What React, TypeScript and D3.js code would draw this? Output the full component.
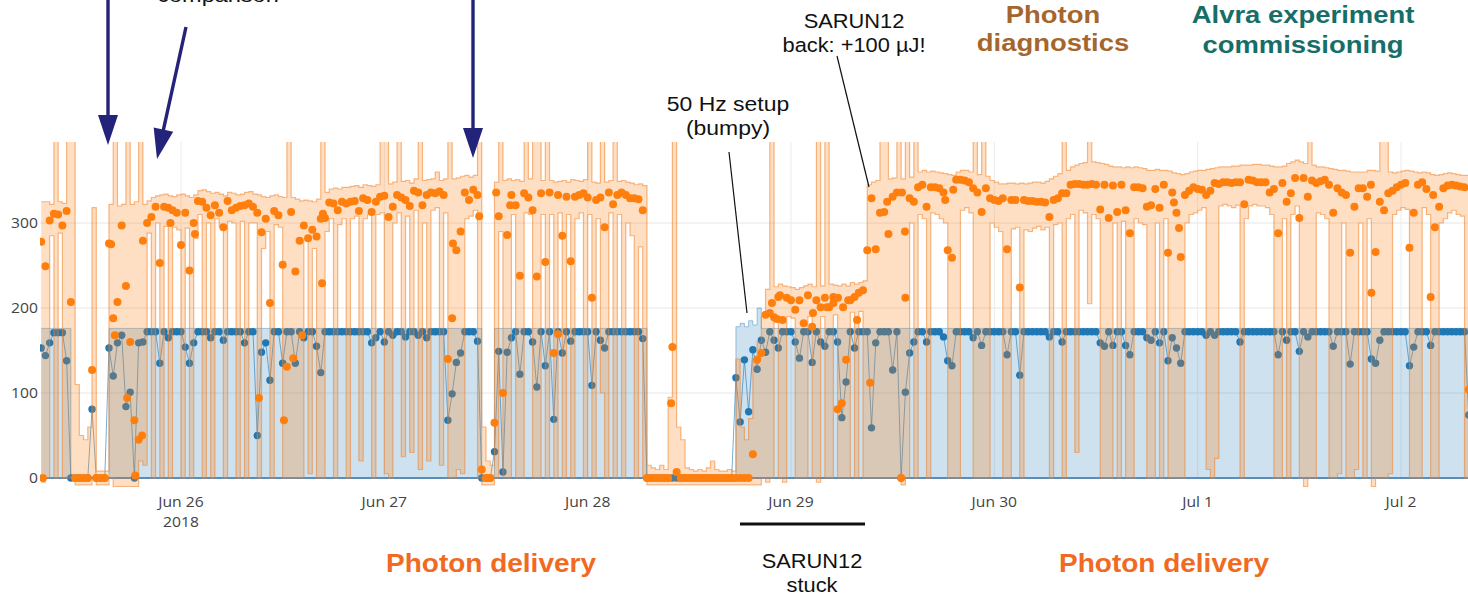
import React from "react";
import * as d3 from "d3";

// Half-hourly bins starting 2018-06-25 07:30 UTC
const START = Date.UTC(2018, 5, 25, 7, 30);
const STEP_MS = 30 * 60 * 1000;

// Photon pulse energy (µJ), bin average
const pulseAvg = [
  278, 249, 303, 311, 310, 297, 314, 207, 0, 0, 0, 0, 127, 0, 0, 0, 276, 188, 207, 297, 226, 160, 68, 45,
  279, 300, 307, 319, 253, 319, 318, 315, 312, 274, 312, 244, 300, 326, 325, 318, 309, 321, 312, 295, 326, 315, 318, 320,
  321, 323, 319, 312, 289, 305, 206, 314, 309, 251, 131, 313, 243, 279, 297, 282, 292, 284, 305, 306, 324, 323, 315, 325,
  323, 325, 326, 314, 329, 327, 313, 325, 331, 332, 307, 319, 333, 330, 327, 320, 338, 336, 321, 333, 336, 335, 337, 333,
  140, 188, 268, 290, 336, 327, 339, 333, 10, 0, 0, 65, 308, 100, 286, 333, 321, 238, 335, 330, 315, 237, 335, 254,
  336, 147, 333, 285, 331, 255, 331, 333, 335, 330, 212, 327, 330, 295, 336, 322, 333, 336, 333, 329, 329, 328, 315, 0,
  0, 0, 0, 0, 0, 154, 7, 0, 0, 0, 0, 0, 0, 0, 0, 0, 0, 0, 0, 0, 0, 0, 0, 0,
  28, 139, 147, 192, 194, 189, 213, 186, 212, 209, 198, 209, 182, 215, 178, 209, 201, 212, 201, 213, 81, 88, 139, 209,
  213, 218, 221, 268, 329, 269, 312, 313, 287, 331, 336, 0, 212, 329, 325, 342, 345, 319, 342, 342, 341, 336, 268, 259,
  351, 351, 350, 348, 341, 336, 313, 341, 329, 327, 326, 329, 269, 327, 327, 224, 327, 326, 326, 325, 325, 324, 307, 327,
  329, 335, 335, 345, 346, 346, 345, 345, 346, 345, 316, 345, 306, 344, 313, 345, 315, 288, 342, 342, 341, 319, 321, 340,
  318, 345, 265, 336, 312, 260, 333, 338, 342, 340, 339, 333, 338, 347, 346, 348, 348, 347, 348, 348, 322, 351, 350, 348,
  348, 348, 336, 340, 288, 347, 325, 335, 353, 306, 353, 331, 350, 347, 349, 351, 345, 312, 341, 336, 333, 265, 319, 341,
  341, 331, 218, 266, 325, 315, 335, 338, 342, 345, 347, 271, 312, 345, 348, 340, 213, 295, 319, 341, 344, 345, 344, 343,
  342, 104,
];

// Photon pulse energy (µJ), bin maximum
const pulseMax = [
  325, 325, 322, 420, 325, 323, 420, 420, 110, 50, 45, 60, 318, 8, 8, 8, 322, 420, 320, 322, 420, 322, 325, 420,
  322, 326, 330, 332, 333, 334, 332, 331, 333, 334, 332, 330, 333, 338, 339, 337, 335, 336, 334, 332, 336, 335, 333, 334,
  336, 337, 334, 333, 331, 330, 332, 333, 331, 330, 420, 330, 328, 326, 327, 326, 325, 328, 420, 336, 340, 341, 340, 342,
  342, 343, 344, 342, 345, 344, 343, 345, 420, 420, 346, 348, 420, 349, 350, 347, 352, 420, 350, 351, 352, 360, 350, 352,
  420, 352, 353, 355, 356, 354, 356, 420, 60, 20, 15, 348, 420, 350, 352, 350, 351, 349, 420, 352, 420, 420, 350, 420,
  350, 348, 349, 350, 348, 351, 350, 349, 351, 420, 348, 347, 420, 348, 350, 420, 349, 350, 348, 347, 345, 346, 344, 15,
  12, 10, 15, 10, 95, 420, 60, 45, 12, 10, 8, 10, 8, 12, 20, 10, 8, 8, 10, 8, 140, 60, 45, 70,
  140, 160, 190, 222, 420, 225, 228, 226, 225, 224, 222, 224, 226, 228, 225, 420, 226, 420, 228, 227, 226, 228, 226, 230,
  228, 230, 232, 345, 348, 350, 420, 420, 352, 353, 420, 352, 420, 354, 420, 360, 362, 360, 361, 360, 359, 358, 357, 356,
  360, 362, 362, 360, 420, 357, 420, 355, 350, 348, 346, 346, 347, 347, 346, 347, 346, 347, 348, 348, 347, 349, 352, 355,
  358, 420, 362, 366, 368, 370, 371, 420, 372, 371, 370, 369, 367, 366, 366, 365, 366, 365, 366, 365, 364, 362, 362, 363,
  362, 362, 361, 359, 358, 357, 358, 360, 361, 362, 362, 363, 364, 365, 366, 366, 366, 367, 367, 368, 368, 368, 369, 369,
  368, 368, 367, 366, 366, 367, 370, 372, 374, 372, 370, 420, 368, 366, 366, 365, 364, 363, 362, 362, 361, 360, 360, 360,
  360, 362, 362, 361, 420, 420, 360, 359, 360, 361, 362, 361, 360, 359, 360, 359, 357, 356, 357, 358, 359, 358, 357, 356,
  356, 356,
];

// Photon pulse energy (µJ), bin minimum
const pulseMin = [
  -5, 0, 285, 0, 288, 0, 0, 0, -8, -8, -8, -8, 0, -8, -8, -8, 0, -10, -10, -10, -10, -10, -10, 20,
  15, 288, 0, 300, 0, 296, 0, 295, 292, 0, 294, 0, 282, 310, 0, 300, 0, 305, 296, 0, 302, 300, 0, 302,
  0, 300, 300, 0, 270, 290, 0, 298, 295, 0, 0, 0, 0, 0, 280, 5, 270, 0, 0, 290, 305, 0, 298, 305,
  0, 305, 308, 20, 305, 310, 0, 310, 312, 5, 0, 300, 312, 25, 308, 30, 315, 10, 300, 20, 315, 318, 15, 312,
  0, 0, 10, 5, 305, 308, 315, 0, -8, -8, -8, 0, 290, 0, 0, 310, 0, 0, 312, 310, 0, 0, 310, 0,
  310, 0, 312, 0, 310, 0, 305, 312, 0, 310, 0, 305, 100, 0, 312, 0, 310, 0, 300, 285, 0, 272, 0, -8,
  -8, -8, -8, -8, -8, -8, -8, -8, -8, -8, -8, -8, -8, -8, -8, -8, -8, -8, -8, -8, -8, -8, -8, -8,
  -8, -8, 0, -5, 0, 185, 0, -5, 190, 188, 0, 0, 0, 190, 0, -5, 190, 0, 0, 192, 0, 0, 0, 195,
  0, 196, 0, 0, 0, 0, 0, 0, 0, 0, 0, -8, 0, 300, 0, 310, 305, 0, 312, 310, 305, 300, 0, 0,
  0, 315, 318, 312, 0, 0, 0, 0, 300, 295, 290, 0, 0, 293, 295, 0, 292, 290, 294, 296, 292, 295, 0, 298,
  300, 0, 305, 310, 30, 315, 312, 205, 310, 305, 0, 0, 0, 300, 0, 302, 0, 0, 305, 300, 298, 0, 0, 300,
  0, 305, 0, 0, 0, 0, 300, 310, 312, 315, 318, 10, 0, 23, 320, 322, 320, 318, 321, 0, 305, 320, 322, 320,
  320, 318, 310, 0, 0, 305, 0, 310, 320, 0, -10, 0, 0, 312, 310, 305, 0, 0, 5, 300, 0, 0, 10, 300,
  0, 305, -10, 0, 0, 0, 5, 310, 315, 318, 316, 0, 0, 0, 318, 310, 0, 0, 300, 305, 312, 315, 310, 308,
  0, 0,
];

// Further single pulse-energy readings: [bin position, µJ]
const pulseExtra: [number, number][] = [
  [0.4, 0], [16.5, 275], [17.4, 168], [20.3, 94], [22.2, 3], [23.8, 50],
  [30.5, 300], [36.3, 287],
  [51.4, 94], [57.3, 68], [59.5, 141], [61.6, 168], [66.3, 229], [66.5, 311],
  [97.2, 276], [103.4, 308], [107.4, 336], [110.7, 321],
  [122.0, 169], [148.7, 88],
  [172.5, 206], [173.7, 187], [174.4, 215], [182.2, 194], [185.5, 201], [187.0, 206], [188.1, 212], [189.3, 201], [190.5, 209],
  [192.6, 186], [195.7, 112], [199.7, 325], [203.2, 336], [203.9, 290], [213.4, 327], [215.3, 339],
  [267.4, 324], [268.6, 294], [313.9, 345], [328.6, 333],
];

// Reference signal, bin average
const refAvg = [
  153, 144, 159, 171, 171, 171, 138, 0, 0, 0, 0, 0, 81, 0, 0, 0, 153, 120, 159, 168, 84, 101, 0, 159,
  160, 172, 172, 172, 135, 172, 165, 172, 172, 172, 154, 135, 159, 172, 172, 172, 165, 172, 172, 162, 172, 172, 172, 172,
  159, 172, 172, 50, 148, 159, 115, 172, 172, 135, 172, 172, 135, 172, 165, 172, 172, 155, 124, 172, 172, 172, 172, 172,
  172, 172, 172, 172, 172, 172, 159, 165, 172, 160, 172, 168, 172, 172, 166, 172, 172, 168, 172, 165, 172, 172, 172, 172,
  68, 99, 136, 147, 172, 172, 172, 161, 0, 0, 0, 31, 149, 7, 148, 165, 172, 122, 172, 172, 160, 107, 172, 132,
  172, 69, 172, 147, 172, 161, 172, 172, 172, 172, 109, 172, 162, 153, 172, 172, 172, 172, 172, 172, 172, 172, 164, 0,
  0, 0, 0, 0, 0, 0, 0, 0, 0, 0, 0, 0, 0, 0, 0, 0, 0, 0, 0, 0, 118, 66, 139, 78,
  151, 128, 162, 148, 172, 162, 153, 172, 172, 172, 160, 141, 172, 172, 136, 172, 160, 155, 172, 172, 160, 71, 113, 172,
  153, 172, 172, 172, 59, 159, 172, 172, 172, 127, 172, 0, 101, 147, 160, 172, 172, 160, 172, 172, 172, 166, 138, 132,
  172, 172, 172, 172, 165, 172, 156, 172, 172, 172, 172, 172, 145, 172, 172, 121, 172, 172, 172, 172, 172, 172, 166, 172,
  172, 160, 172, 172, 172, 172, 172, 172, 172, 172, 159, 155, 172, 156, 172, 172, 156, 145, 172, 172, 172, 165, 162, 172,
  159, 172, 138, 165, 153, 135, 172, 172, 172, 172, 172, 168, 172, 168, 172, 172, 172, 172, 172, 160, 172, 172, 172, 172,
  172, 172, 172, 172, 145, 172, 162, 172, 172, 149, 172, 166, 172, 172, 172, 172, 172, 155, 172, 172, 172, 134, 172, 172,
  172, 172, 140, 135, 162, 172, 172, 172, 172, 172, 172, 132, 154, 172, 172, 172, 156, 172, 172, 172, 172, 172, 172, 172,
  172, 74,
];

// Reference signal, bin maximum (bin minimum is 0 throughout)
const refMax = [
  176, 176, 176, 176, 176, 176, 176, 0, 0, 0, 0, 0, 0, 0, 0, 0, 176, 176, 176, 176, 176, 176, 176, 176,
  176, 176, 176, 176, 176, 176, 176, 176, 176, 176, 176, 176, 176, 176, 176, 176, 176, 176, 176, 176, 176, 176, 176, 176,
  176, 176, 176, 176, 176, 176, 176, 176, 176, 176, 176, 176, 176, 176, 176, 176, 176, 176, 176, 176, 176, 176, 176, 176,
  176, 176, 176, 176, 176, 176, 176, 176, 176, 176, 176, 176, 176, 176, 176, 176, 176, 176, 176, 176, 176, 176, 176, 176,
  176, 176, 176, 176, 176, 176, 176, 176, 0, 0, 0, 176, 176, 176, 176, 176, 176, 176, 176, 176, 176, 176, 176, 176,
  176, 176, 176, 176, 176, 176, 176, 176, 176, 176, 176, 176, 176, 176, 176, 176, 176, 176, 176, 176, 176, 176, 176, 0,
  0, 0, 0, 0, 0, 0, 0, 0, 0, 0, 0, 0, 0, 0, 0, 0, 0, 0, 0, 0, 178, 182, 178, 185,
  180, 200, 176, 176, 176, 176, 176, 176, 176, 176, 176, 176, 176, 176, 176, 176, 176, 176, 176, 176, 176, 176, 176, 176,
  176, 176, 176, 176, 176, 176, 176, 176, 176, 176, 176, 176, 176, 176, 176, 176, 176, 176, 176, 176, 176, 176, 176, 176,
  176, 176, 176, 176, 176, 176, 176, 176, 176, 176, 176, 176, 176, 176, 176, 176, 176, 176, 176, 176, 176, 176, 176, 176,
  176, 176, 176, 176, 176, 176, 176, 176, 176, 176, 176, 176, 176, 176, 176, 176, 176, 176, 176, 176, 176, 176, 176, 176,
  176, 176, 176, 176, 176, 176, 176, 176, 176, 176, 176, 176, 176, 176, 176, 176, 176, 176, 176, 176, 176, 176, 176, 176,
  176, 176, 176, 176, 176, 176, 176, 176, 176, 176, 176, 176, 176, 176, 176, 176, 176, 176, 176, 176, 176, 176, 176, 176,
  176, 176, 176, 176, 176, 176, 176, 176, 176, 176, 176, 176, 176, 176, 176, 176, 176, 176, 176, 176, 176, 176, 176, 176,
  176, 176,
];

const yTicks = [0, 100, 200, 300];
const dayTicks = ["2018-06-26", "2018-06-27", "2018-06-28", "2018-06-29", "2018-06-30", "2018-07-01", "2018-07-02"];

const ORANGE = "#ff7f0e";
const BLUE = "#1f77b4";
const NAVY = "#24237a";
const STRETCH = 1.12;
const SANS = "'Liberation Sans', Arial, sans-serif";

type TxtProps = {
  x: number; y: number; size: number; fill?: string; weight?: string | number;
  anchor?: "start" | "middle" | "end"; family?: string; children: React.ReactNode;
};

function Txt({ x, y, size, fill = "#111", weight = "normal", anchor = "middle", family = SANS, children }: TxtProps) {
  return (
    <text transform={`translate(${x},${y}) scale(${STRETCH},1)`} fontSize={size} fill={fill}
      fontWeight={weight} textAnchor={anchor} fontFamily={family}>
      {children}
    </text>
  );
}

function Arrow({ x1, y1, x2, y2 }: { x1: number; y1: number; x2: number; y2: number }) {
  const dx = x2 - x1, dy = y2 - y1;
  const len = Math.hypot(dx, dy);
  const ux = dx / len, uy = dy / len;
  const headLen = 30, half = 10;
  const bx = x2 - ux * headLen, by = y2 - uy * headLen;
  const px = -uy, py = ux;
  const pts = `${x2},${y2} ${bx + px * half},${by + py * half} ${bx - px * half},${by - py * half}`;
  return (
    <g>
      <line x1={x1} y1={y1} x2={bx + ux * 2} y2={by + uy * 2} stroke={NAVY} strokeWidth={3.4} />
      <polygon points={pts} fill={NAVY} />
    </g>
  );
}

export default function App() {
  const W = 1468, H = 595;
  const plot = { left: 40, right: 1468, top: 142, bottom: 496 };

  const x = d3.scaleUtc()
    .domain([new Date(Date.UTC(2018, 5, 26)), new Date(Date.UTC(2018, 6, 2))])
    .range([181, 1401]);
  const y = d3.scaleLinear().domain([0, 300]).range([478, 223]);
  const tx = (i: number) => x(new Date(START + i * STEP_MS));
  const idx = pulseAvg.map((_, i) => i);
  const fmt = d3.utcFormat("%b %-d");

  const pulseBand = d3.area<number>().curve(d3.curveStepAfter)
    .x((i) => tx(i)).y0((i) => y(pulseMin[i])).y1((i) => y(pulseMax[i]));
  const pulseHi = d3.line<number>().curve(d3.curveStepAfter).x((i) => tx(i)).y((i) => y(pulseMax[i]));
  const pulseLo = d3.line<number>().curve(d3.curveStepAfter).x((i) => tx(i)).y((i) => y(pulseMin[i]));

  const refBand = d3.area<number>().curve(d3.curveStepAfter)
    .x((i) => tx(i)).y0(y(0)).y1((i) => y(refMax[i]));
  const refHi = d3.line<number>().curve(d3.curveStepAfter).x((i) => tx(i)).y((i) => y(refMax[i]));
  const refLine = d3.line<number>().x((i) => tx(i)).y((i) => y(refAvg[i]));

  return (
    <svg width={W} height={H} style={{ position: "absolute", left: 0, top: 0, background: "#fff" }}>
      <defs>
        <clipPath id="plot-area">
          <rect x={plot.left} y={plot.top} width={plot.right - plot.left} height={plot.bottom - plot.top} />
        </clipPath>
      </defs>

      {/* grid */}
      <g>
        {yTicks.filter((v) => v > 0).map((v) => (
          <line key={v} x1={plot.left} x2={plot.right} y1={y(v)} y2={y(v)} stroke="#e6e6e6" strokeWidth={1} />
        ))}
        {dayTicks.map((d) => {
          const px = x(new Date(d + "T00:00:00Z"));
          return <line key={d} x1={px} x2={px} y1={plot.top} y2={y(0)} stroke="#ececec" strokeWidth={1} />;
        })}
      </g>

      <g clipPath="url(#plot-area)">
        {/* reference signal */}
        <path d={refBand(idx) ?? ""} fill="rgba(31,119,180,0.22)" stroke="none" />
        <path d={refHi(idx) ?? ""} fill="none" stroke="rgba(31,119,180,0.4)" strokeWidth={1} />
        <line x1={plot.left} x2={plot.right} y1={y(0)} y2={y(0)} stroke="#5c8db8" strokeWidth={2} />
        <path d={refLine(idx) ?? ""} fill="none" stroke="rgba(31,119,180,0.6)" strokeWidth={1} />
        {idx.map((i) => (
          <circle key={"r" + i} cx={tx(i)} cy={y(refAvg[i])} r={3.7} fill={BLUE} />
        ))}

        {/* pulse energy */}
        <path d={pulseBand(idx) ?? ""} fill="rgba(255,127,14,0.25)" stroke="none" />
        <path d={pulseHi(idx) ?? ""} fill="none" stroke="rgba(240,130,40,0.55)" strokeWidth={1.2} />
        <path d={pulseLo(idx) ?? ""} fill="none" stroke="rgba(240,130,40,0.55)" strokeWidth={1.2} />
        {idx.map((i) => (
          <circle key={"p" + i} cx={tx(i)} cy={y(pulseAvg[i])} r={4} fill={ORANGE} />
        ))}
        {pulseExtra.map(([k, v], j) => (
          <circle key={"e" + j} cx={tx(k)} cy={y(v)} r={4} fill={ORANGE} />
        ))}
      </g>

      {/* axes labels */}
      <g>
        {yTicks.map((v) => (
          <Txt key={v} x={38} y={y(v) + 5} size={14} fill="#444" anchor="end" family="'Open Sans', sans-serif">{v}</Txt>
        ))}
        {dayTicks.map((d) => {
          const dt = new Date(d + "T00:00:00Z");
          return (
            <Txt key={d} x={x(dt)} y={507} size={14} fill="#444" family="'Open Sans', sans-serif">{fmt(dt)}</Txt>
          );
        })}
        <Txt x={x(new Date(dayTicks[0] + "T00:00:00Z"))} y={527} size={14} fill="#444" family="'Open Sans', sans-serif">2018</Txt>
      </g>

      {/* annotations */}
      <Txt x={218} y={2} size={21}>comparison</Txt>
      <Arrow x1={108} y1={-5} x2={108} y2={145} />
      <Arrow x1={186} y1={27} x2={157} y2={159} />
      <Arrow x1={473} y1={-5} x2={473} y2={158} />

      <Txt x={728} y={111} size={20.5}>50 Hz setup</Txt>
      <Txt x={728} y={135} size={20.5}>(bumpy)</Txt>
      <line x1={729} y1={152} x2={747} y2={313} stroke="#111" strokeWidth={1.2} />

      <Txt x={854} y={28} size={19.5}>SARUN12</Txt>
      <Txt x={854} y={52} size={19.5}>back: +100 µJ!</Txt>
      <line x1={837} y1={56} x2={869} y2={187} stroke="#111" strokeWidth={1.2} />

      <Txt x={1053} y={23} size={24.5} weight="bold" fill="#a5662e">Photon</Txt>
      <Txt x={1053} y={51} size={24.5} weight="bold" fill="#a5662e">diagnostics</Txt>
      <Txt x={1303} y={23} size={24.5} weight="bold" fill="#176e69">Alvra experiment</Txt>
      <Txt x={1303} y={53} size={24.5} weight="bold" fill="#176e69">commissioning</Txt>

      <line x1={740} y1={524} x2={865} y2={524} stroke="#111" strokeWidth={3} />
      <Txt x={812} y={568} size={19.5}>SARUN12</Txt>
      <Txt x={812} y={592} size={19.5}>stuck</Txt>

      <Txt x={491} y={572} size={25} weight="bold" fill="#f06a22">Photon delivery</Txt>
      <Txt x={1164} y={572} size={25} weight="bold" fill="#f06a22">Photon delivery</Txt>
    </svg>
  );
}
